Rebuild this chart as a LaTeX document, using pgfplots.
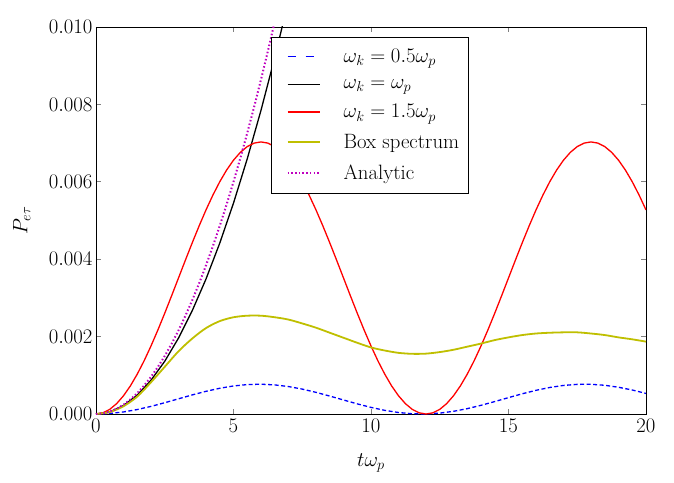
\documentclass[border=0pt]{standalone}
\usepackage{pgfplots}
\pgfplotsset{compat=1.18}
\definecolor{mplolive}{rgb}{0.75,0.75,0}
\definecolor{mplmag}{rgb}{0.75,0,0.75}
\begin{document}
\begin{tikzpicture}
\path[use as bounding box] (-96pt,-68pt) rectangle (578pt,414pt);
\begin{axis}[
  at={(0,0)}, anchor=south west,
  width=550pt, height=387pt, scale only axis,
  xmin=0, xmax=20, ymin=0, ymax=0.010,
  xtick={0,5,10,15,20},
  ytick={0,0.002,0.004,0.006,0.008,0.010},
  scaled y ticks=false,
  yticklabel style={/pgf/number format/.cd, fixed, fixed zerofill, precision=3},
  xticklabel style={yshift=-2pt},
  tick align=inside,
  major tick length=5pt,
  axis line style={line width=0.9pt},
  every tick/.append style={line width=0.8pt},
  tick label style={font=\huge},
  label style={font=\huge},
  xlabel={$t\omega_p$},
  ylabel={$P_{e\tau}$},
  ylabel style={at={(axis description cs:-0.135,0.5)}, anchor=center},
  xlabel style={at={(axis description cs:0.5,-0.127)}, anchor=center},
  legend cell align=left,
  legend image code/.code={\path (0pt,0pt) (61pt,0pt); \draw[#1] (8pt,0pt) -- (40pt,0pt);},
  legend style={at={(0.498,0.974)}, anchor=north, font=\huge,
    inner xsep=7pt, inner ysep=10pt, row sep=11pt},
]
\addplot[blue, line width=1.3pt, dash pattern=on 4pt off 2.5pt,
  legend image code/.code={\path (0pt,0pt) (61pt,0pt); \draw[blue, line width=1.3pt, dash pattern=on 8pt off 10pt] (8pt,0pt) -- (40pt,0pt);}] coordinates {
(0,0) (0.5,0.00001345) (1,0.00005288) (1.5,0.0001155) (2,0.0001969) (2.5,0.0002915)
(3,0.0003926) (3.5,0.0004932) (4,0.0005863) (4.5,0.0006652) (5,0.0007246) (5.5,0.0007603)
(6,0.0007697) (6.5,0.0007522) (7,0.0007091) (7.5,0.0006434) (8,0.0005596) (8.5,0.0004636)
(9,0.0003621) (9.5,0.0002621) (10,0.0001707) (10.5,0.0000945) (11,0.0000384) (11.5,0.0000066)
(12,0.0000012) (12.5,0.0000227) (13,0.0000694) (13.5,0.0001382) (14,0.0002242) (14.5,0.0003214)
(15,0.0004236) (15.5,0.0005224) (16,0.0006118) (16.5,0.0006854) (17,0.0007380) (17.5,0.0007659)
(18,0.0007673) (18.5,0.0007419) (19,0.0006916) (19.5,0.0006199) (20,0.0005317)
};
\addlegendentry{$\omega_k = 0.5\omega_p$}
\addplot[black, line width=1.3pt] coordinates {
(0,0) (0.5,0.0000545) (1,0.000218) (1.5,0.0004905) (2,0.000872) (2.5,0.0013625)
(3,0.001962) (3.5,0.0026705) (4,0.003488) (4.5,0.0044145) (5,0.00545) (5.5,0.0065945)
(6,0.007848) (6.5,0.0092105) (7,0.010682) (7.5,0.012263)
};
\addlegendentry{$\omega_k = \omega_p$}
\addplot[red, line width=1.3pt] coordinates {
(0,0) (0.25,0.0000301) (0.5,0.000120) (0.75,0.000268) (1,0.000471) (1.25,0.000726)
(1.5,0.001030) (1.75,0.001375) (2,0.001758) (2.25,0.002170) (2.5,0.002605) (2.75,0.003056)
(3,0.003515) (3.25,0.003974) (3.5,0.004425) (3.75,0.004860) (4,0.005273) (4.25,0.005655)
(4.5,0.006001) (4.75,0.006304) (5,0.006559) (5.25,0.006762) (5.5,0.006910) (5.75,0.007000)
(6,0.007030) (6.25,0.007000) (6.5,0.006910) (6.75,0.006762) (7,0.006559) (7.25,0.006304)
(7.5,0.006001) (7.75,0.005655) (8,0.005273) (8.25,0.004860) (8.5,0.004425) (8.75,0.003974)
(9,0.003515) (9.25,0.003056) (9.5,0.002605) (9.75,0.002170) (10,0.001758) (10.25,0.001375)
(10.5,0.001030) (10.75,0.000726) (11,0.000471) (11.25,0.000268) (11.5,0.000120) (11.75,0.0000301)
(12,0) (12.25,0.0000301) (12.5,0.000120) (12.75,0.000268) (13,0.000471) (13.25,0.000726)
(13.5,0.001030) (13.75,0.001375) (14,0.001758) (14.25,0.002170) (14.5,0.002605) (14.75,0.003056)
(15,0.003515) (15.25,0.003974) (15.5,0.004425) (15.75,0.004860) (16,0.005273) (16.25,0.005655)
(16.5,0.006001) (16.75,0.006304) (17,0.006559) (17.25,0.006762) (17.5,0.006910) (17.75,0.007000)
(18,0.007030) (18.25,0.007000) (18.5,0.006910) (18.75,0.006762) (19,0.006559) (19.25,0.006304)
(19.5,0.006001) (19.75,0.005655) (20,0.005273)
};
\addlegendentry{$\omega_k = 1.5\omega_p$}
\addplot[mplolive, line width=1.8pt, smooth] coordinates {
(0,0) (0.5,0.00005) (1,0.0002) (1.5,0.00045) (2,0.00082) (2.5,0.00122) (3,0.00162)
(3.5,0.00195) (4,0.00222) (4.5,0.00240) (5,0.00250) (5.5,0.00254) (6,0.00254) (6.5,0.00250)
(7,0.00244) (7.5,0.00234) (8,0.00223) (8.5,0.00210) (9,0.00197) (9.5,0.00184) (10,0.00172)
(10.5,0.00164) (11,0.00158) (11.5,0.001555) (12,0.00156) (12.5,0.00160) (13,0.00166)
(13.5,0.00174) (14,0.00182) (14.5,0.00191) (15,0.00198) (15.5,0.00204) (16,0.00208)
(16.5,0.00210) (17,0.00211) (17.5,0.00211) (18,0.00208) (18.5,0.00204) (19,0.00198)
(19.5,0.00193) (20,0.00187)
};
\addlegendentry{Box spectrum}
\addplot[mplmag, line width=2pt, dash pattern=on 1.5pt off 2.2pt] coordinates {
(0,0) (0.25,0.000015) (0.5,0.00006) (0.75,0.000135) (1,0.00024) (1.25,0.000375)
(1.5,0.00054) (1.75,0.000735) (2,0.00096) (2.25,0.001215) (2.5,0.0015) (2.75,0.001815)
(3,0.00216) (3.25,0.002535) (3.5,0.00294) (3.75,0.003375) (4,0.00384) (4.25,0.004335)
(4.5,0.00486) (4.75,0.005415) (5,0.006) (5.25,0.006615) (5.5,0.00726) (5.75,0.007935)
(6,0.00864) (6.25,0.009375) (6.5,0.01014) (6.75,0.010935)
};
\addlegendentry{Analytic}
\end{axis}
\end{tikzpicture}
\end{document}
